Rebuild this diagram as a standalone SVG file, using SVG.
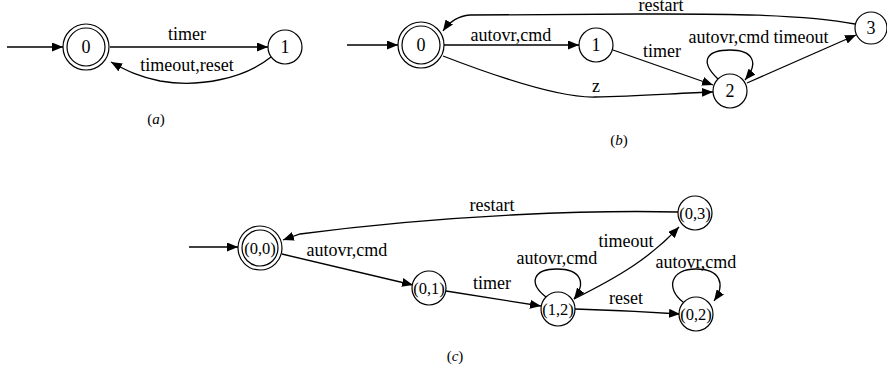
<svg xmlns="http://www.w3.org/2000/svg" width="887" height="380" viewBox="0 0 887 380">
  <style>
    .st { fill: #fff; stroke: #000; stroke-width: 1.2; }
    .in { fill: none; stroke: #000; stroke-width: 1.2; }
    .e { fill: none; stroke: #000; stroke-width: 1.3; marker-end: url(#arr); }
    text { fill: #000; text-anchor: middle; font-family: 'Liberation Serif', 'Times New Roman', 'DejaVu Serif', serif; }
    .lbl { font-size: 18px; }
    .nl { font-size: 18px; }
    .nc { font-size: 16.5px; }
    .cap { font-size: 15px; }
    .cap tspan.v { font-style: italic; }
  </style>
  <defs>
    <marker id="arr" markerWidth="12" markerHeight="9" refX="11" refY="4.5" orient="auto" markerUnits="userSpaceOnUse">
      <path d="M0,0 L11,4.5 L0,9 z" fill="#000"/>
    </marker>
  </defs>

  <!-- (a) -->
  <g id="edges-a">
    <path class="e" d="M7,47 L63,47"/>
    <path class="e" d="M110,47 L268,47"/>
    <path class="e" d="M271,57 C245,78 200,88 160,81 C140,77 127,71 111,62"/>
  </g>
  <g id="a-labels">
    <text class="lbl" x="187" y="40" font-family="Liberation Serif">timer</text>
    <text class="lbl" x="187" y="71" font-family="Liberation Serif">timeout,reset</text>
  </g>
  <g id="a0">
    <circle class="st" cx="86" cy="47" r="23"/>
    <circle class="in" cx="86" cy="47" r="19"/>
    <text class="nl" x="86" y="53">0</text>
  </g>
  <g id="a1">
    <circle class="st" cx="285" cy="47" r="17"/>
    <text class="nl" x="285" y="53">1</text>
  </g>
  <text class="cap" x="156" y="124">(<tspan class="v">a</tspan>)</text>

  <!-- (b) -->
  <g id="edges-b">
    <path class="e" d="M347,45 L398,45"/>
    <path class="e" d="M444,45 L579,45"/>
    <path class="e" d="M855,24 C800,13 700,14 640,14 L470,15 C458,16 450,21 443,31"/>
    <path class="e" d="M613,50 L713,85"/>
    <path class="e" d="M443,56 C500,78 560,98 595,97 C640,96 680,93 713,92"/>
    <path class="e" d="M718,79 C698,60 708,50 730,50 C752,50 760,62 745,80"/>
    <path class="e" d="M747,83 L856,35"/>
  </g>
  <g id="b-labels">
    <text class="lbl" x="511" y="41">autovr,cmd</text>
    <text class="lbl" x="661" y="11">restart</text>
    <text class="lbl" x="662" y="57">timer</text>
    <text class="lbl" x="596" y="92">z</text>
    <text class="lbl" x="729" y="43">autovr,cmd</text>
    <text class="lbl" x="801" y="43">timeout</text>
  </g>
  <g id="b0">
    <circle class="st" cx="421" cy="45" r="23"/>
    <circle class="in" cx="421" cy="45" r="19"/>
    <text class="nl" x="421" y="51">0</text>
  </g>
  <g id="b1">
    <circle class="st" cx="596" cy="45" r="17"/>
    <text class="nl" x="596" y="51">1</text>
  </g>
  <g id="b2">
    <circle class="st" cx="730" cy="91" r="17"/>
    <text class="nl" x="730" y="97">2</text>
  </g>
  <g id="b3">
    <circle class="st" cx="871" cy="28" r="16"/>
    <text class="nl" x="871" y="34">3</text>
  </g>
  <text class="cap" x="619" y="145">(<tspan class="v">b</tspan>)</text>

  <!-- (c) -->
  <g id="edges-c">
    <path class="e" d="M189,247 L238,247"/>
    <path class="e" d="M678,212 C600,210 450,214 300,234 L283,240"/>
    <path class="e" d="M282,254 L413,285"/>
    <path class="e" d="M446,291 L541,306"/>
    <path class="e" d="M574,299 C620,276 650,258 679,227"/>
    <path class="e" d="M546,297 C528,283 533,269 557,269 C580,269 587,282 574,299"/>
    <path class="e" d="M575,309 C610,310 650,312 680,314"/>
    <path class="e" d="M683,302 C665,288 671,269 696,269 C720,269 726,284 714,301"/>
  </g>
  <g id="c-labels">
    <text class="lbl" x="492" y="211">restart</text>
    <text class="lbl" x="347" y="256">autovr,cmd</text>
    <text class="lbl" x="492" y="289">timer</text>
    <text class="lbl" x="626" y="247">timeout</text>
    <text class="lbl" x="557" y="264">autovr,cmd</text>
    <text class="lbl" x="626" y="304">reset</text>
    <text class="lbl" x="696" y="268">autovr,cmd</text>
  </g>
  <g id="c00">
    <circle class="st" cx="260" cy="248" r="22"/>
    <circle class="in" cx="260" cy="248" r="18"/>
    <text class="nc" x="260" y="254">(0,0)</text>
  </g>
  <g id="c01">
    <circle class="st" cx="429" cy="288" r="17"/>
    <text class="nc" x="429" y="294">(0,1)</text>
  </g>
  <g id="c12">
    <circle class="st" cx="558" cy="309" r="17"/>
    <text class="nc" x="558" y="315">(1,2)</text>
  </g>
  <g id="c03">
    <circle class="st" cx="695" cy="213" r="17"/>
    <text class="nc" x="695" y="219">(0,3)</text>
  </g>
  <g id="c02">
    <circle class="st" cx="696" cy="314" r="17"/>
    <text class="nc" x="696" y="320">(0,2)</text>
  </g>
  <text class="cap" x="455" y="361">(<tspan class="v">c</tspan>)</text>
</svg>
